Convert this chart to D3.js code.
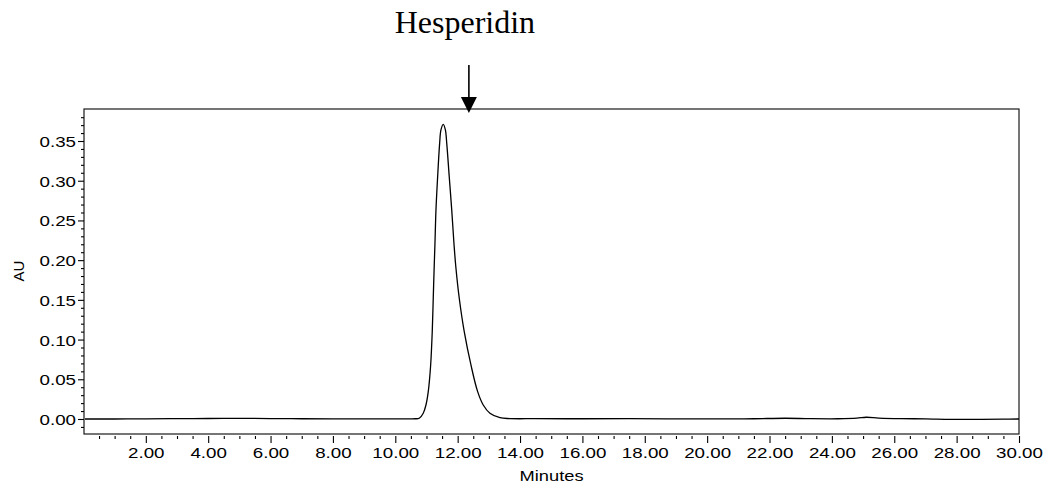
<!DOCTYPE html>
<html>
<head>
<meta charset="utf-8">
<script src="https://cdn.jsdelivr.net/npm/d3@7"></script>
<style>
  html, body { margin: 0; padding: 0; background: #fff; }
  svg { display: block; }
  text { fill: #000; }
</style>
</head>
<body>
<svg id="chart" width="1048" height="489"></svg>
<script>
// Retention time (min) and detector response (AU) of the chromatogram trace
const time = [
  0.05, 1.0, 2.0, 2.8, 3.5, 4.5, 5.2, 6.0, 7.0, 8.0, 9.0, 10.0, 10.5,
  10.632, 10.768, 10.896, 10.983, 11.057, 11.134, 11.185, 11.217, 11.249,
  11.272, 11.304, 11.358, 11.422, 11.464, 11.538, 11.606, 11.650, 11.730,
  11.810, 11.881, 11.940, 12.051, 12.211, 12.426, 12.641, 12.820, 13.035,
  13.356, 13.676,
  14.5, 16.0, 17.5, 19.0, 20.5, 21.5, 22.5, 23.3, 24.2, 24.8, 25.1, 25.5,
  26.2, 27.0, 27.8, 28.8, 29.5, 30.0
];
const absorbance = [
  0.0000, 0.0000, 0.0001, 0.0004, 0.0005, 0.0007, 0.0008, 0.0005, 0.0003, 0.0002, 0.0001, 0.0001, 0.0002,
  0.0003, 0.0009, 0.0072, 0.0176, 0.0344, 0.0680, 0.1100, 0.1520, 0.1940,
  0.2210, 0.2630, 0.3050, 0.3470, 0.3640, 0.3710, 0.3640, 0.3470, 0.3050,
  0.2630, 0.2210, 0.1920, 0.1520, 0.1100, 0.0680, 0.0344, 0.0176, 0.0072,
  0.0016, 0.0005,
  0.0004, 0.0003, 0.0004, 0.0002, 0.0001, 0.0003, 0.0009, 0.0004, 0.0003, 0.0010, 0.0022, 0.0012,
  0.0004, 0.0002, -0.0004, -0.0004, -0.0001, 0.0000
];

// Axis ticks
const xMajorTicks = [2, 4, 6, 8, 10, 12, 14, 16, 18, 20, 22, 24, 26, 28, 30];
const xMinorTicks = [0.5, 1, 1.5, 2.5, 3, 3.5, 4.5, 5, 5.5, 6.5, 7, 7.5, 8.5, 9, 9.5,
  10.5, 11, 11.5, 12.5, 13, 13.5, 14.5, 15, 15.5, 16.5, 17, 17.5, 18.5, 19, 19.5,
  20.5, 21, 21.5, 22.5, 23, 23.5, 24.5, 25, 25.5, 26.5, 27, 27.5, 28.5, 29, 29.5];
const yMajorTicks = [0.00, 0.05, 0.10, 0.15, 0.20, 0.25, 0.30, 0.35];
const yMinorTicks = [-0.01, 0.01, 0.02, 0.03, 0.04, 0.06, 0.07, 0.08, 0.09, 0.11, 0.12,
  0.13, 0.14, 0.16, 0.17, 0.18, 0.19, 0.21, 0.22, 0.23, 0.24, 0.26, 0.27, 0.28, 0.29,
  0.31, 0.32, 0.33, 0.34, 0.36, 0.37, 0.38];

// Peak annotation
const peakName = "Hesperidin";
const arrowTime = 12.36;

const sans = "'Liberation Sans', Arial, sans-serif";
const serif = "'Liberation Serif', 'Times New Roman', serif";

const svg = d3.select("#chart");
const plot = { left: 84, right: 1019, top: 109, bottom: 434 };
const stretch = 1.25; // horizontal widening of the sans-serif labels

const x = d3.scaleLinear().domain([0.05, 30]).range([plot.left + 1, plot.right]);
const y = d3.scaleLinear().domain([-0.0189, 0.3903]).range([plot.bottom, plot.top]);

// Frame
svg.append("rect")
  .attr("x", plot.left).attr("y", plot.top)
  .attr("width", plot.right - plot.left).attr("height", plot.bottom - plot.top)
  .attr("fill", "none").attr("stroke", "#1a1a1a").attr("stroke-width", 1.2);

// X axis (ticks sit just below the frame)
const xAxisY = plot.bottom + 2;
const xMinor = svg.append("g").attr("transform", `translate(0,${xAxisY})`)
  .call(d3.axisBottom(x).tickValues(xMinorTicks).tickSize(3).tickFormat(""));
const xMajor = svg.append("g").attr("transform", `translate(0,${xAxisY})`)
  .call(d3.axisBottom(x).tickValues(xMajorTicks).tickSize(7).tickFormat(d3.format(".2f")));
[xMinor, xMajor].forEach(g => {
  g.select(".domain").remove();
  g.selectAll(".tick line").attr("stroke", "#000").attr("stroke-width", 1.1);
});
xMajor.selectAll(".tick text")
  .attr("y", 22).attr("dy", 0)
  .style("font-size", "15px")
  .style("font-family", sans)
  .attr("fill", "#000")
  .attr("transform", `scale(${stretch},1)`);

// Y axis
const yMinor = svg.append("g").attr("transform", `translate(${plot.left},0)`)
  .call(d3.axisLeft(y).tickValues(yMinorTicks).tickSize(3).tickFormat(""));
const yMajor = svg.append("g").attr("transform", `translate(${plot.left},0)`)
  .call(d3.axisLeft(y).tickValues(yMajorTicks).tickSize(6).tickFormat(d3.format(".2f")));
[yMinor, yMajor].forEach(g => {
  g.select(".domain").remove();
  g.selectAll(".tick line").attr("stroke", "#000").attr("stroke-width", 1.1);
});
yMajor.selectAll(".tick text")
  .attr("x", -8 / stretch).attr("dy", "0.37em")
  .style("font-size", "15px")
  .style("font-family", sans)
  .attr("fill", "#000")
  .attr("text-anchor", "end")
  .attr("transform", `scale(${stretch},1)`);

// Axis titles
svg.append("text")
  .attr("transform", `translate(${(plot.left + plot.right) / 2},481) scale(${stretch - 0.03},1)`)
  .attr("text-anchor", "middle")
  .style("font-size", "15px").style("font-family", sans)
  .text("Minutes");
svg.append("text")
  .attr("transform", `translate(24,271) rotate(-90)`)
  .attr("text-anchor", "middle")
  .style("font-size", "15px").style("font-family", sans)
  .text("AU");

// Chromatogram trace
const data = time.map((t, i) => ({ t, v: absorbance[i] }));
const line = d3.line().x(d => x(d.t)).y(d => y(d.v)).curve(d3.curveCatmullRom.alpha(0.5));
svg.append("path")
  .datum(data)
  .attr("d", line)
  .attr("fill", "none")
  .attr("stroke", "#000")
  .attr("stroke-width", 1.3)
  .attr("stroke-linejoin", "round");

// Peak label and arrow
const ax = x(arrowTime);
svg.append("text")
  .attr("x", ax - 4).attr("y", 33)
  .attr("text-anchor", "middle")
  .style("font-family", serif)
  .style("font-size", "32px")
  .text(peakName);
svg.append("line")
  .attr("x1", ax).attr("x2", ax).attr("y1", 65).attr("y2", 99)
  .attr("stroke", "#000").attr("stroke-width", 1.6);
svg.append("path")
  .attr("d", `M${ax - 8},97 L${ax + 8},97 L${ax},113 Z`)
  .attr("fill", "#000");
</script>
</body>
</html>
